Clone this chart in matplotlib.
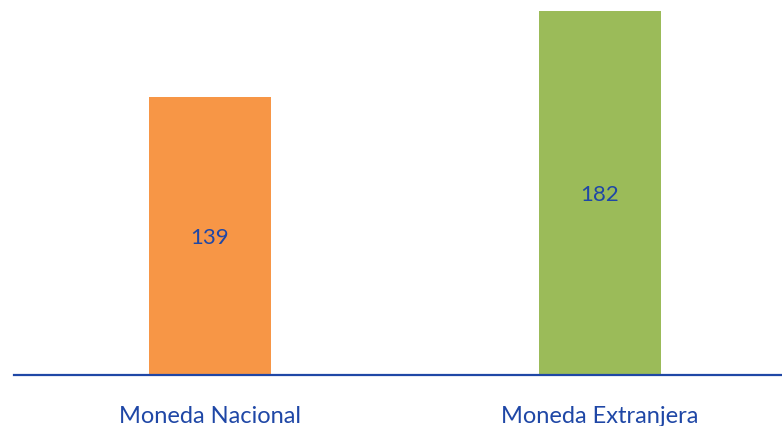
import matplotlib
matplotlib.use("Agg")
import matplotlib.pyplot as plt

categories = ["Moneda Nacional", "Moneda Extranjera"]
values = [139, 182]
colors = ["#F79646", "#9BBB59"]

text_color = "#1F47A6"

W, H = 782, 426
fig = plt.figure(figsize=(W / 100, H / 100), dpi=100)
x0, x1 = 14, 782
ybot = 375
ax = fig.add_axes([x0 / W, (H - ybot) / H, (x1 - x0) / W, ybot / H])

xs = list(range(len(categories)))
bars = ax.bar(xs, values, width=0.313, color=colors)
ax.set_xlim(-0.5026, 1.4667)
ax.set_ylim(0, ybot / 2.0)

for b, v in zip(bars, values):
    ax.text(b.get_x() + b.get_width() / 2, v / 2 - 1.0, str(v), ha="center", va="center",
            color=text_color, fontsize=16, family="Lato")

for sp in ["top", "right", "left"]:
    ax.spines[sp].set_visible(False)
ax.spines["bottom"].set_color(text_color)
ax.spines["bottom"].set_linewidth(1.6)
ax.set_yticks([])
ax.set_xticks(xs)
ax.set_xticklabels(categories, color=text_color, fontsize=17, family="Lato")
ax.tick_params(axis="x", length=0, pad=22)

fig.savefig("out.png", dpi=100)
